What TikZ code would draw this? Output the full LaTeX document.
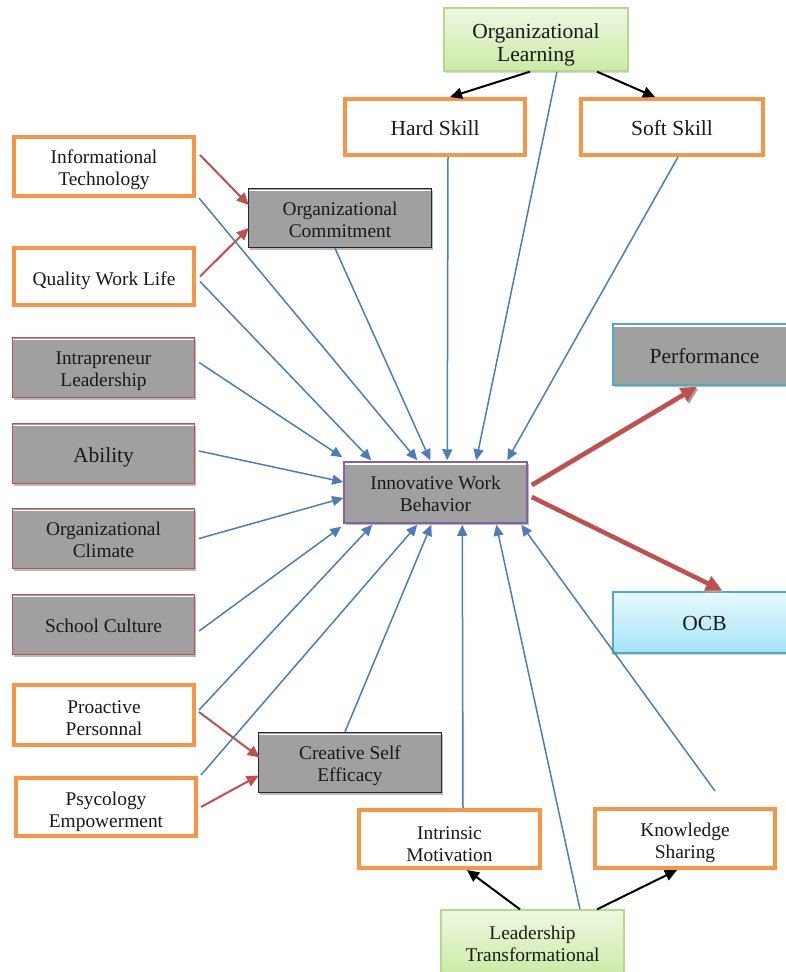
\documentclass[tikz,border=0pt]{standalone}
\usepackage{fontspec}
\setmainfont{Liberation Serif}
\usetikzlibrary{arrows.meta,shadows}
\definecolor{lblue}{HTML}{4A7EBB}
\definecolor{lred}{HTML}{C0504D}
\definecolor{lorange}{HTML}{F79646}
\definecolor{lgray}{HTML}{A0A0A0}
\definecolor{lpurple}{HTML}{8064A2}
\definecolor{lcyan}{HTML}{4BACC6}
\definecolor{lgreenb}{HTML}{B3D98A}
\definecolor{lgreentop}{HTML}{EEF8E2}
\definecolor{lgreenbot}{HTML}{CBEAA5}
\definecolor{lcyantop}{HTML}{E6F9FD}
\definecolor{lcyanbot}{HTML}{A6E4F7}
\newcommand\fsmall{\fontsize{19.4pt}{22pt}\selectfont}
\newcommand\flarge{\fontsize{21.5pt}{23pt}\selectfont}
\def\tsh{0pt}
\newcommand\dn[1]{\raisebox{-\tsh}[\height][\depth]{#1}}
\tikzset{
  base/.style={rectangle, align=center, inner sep=0pt, font=\fsmall, text=black!90},
  ts/.style={execute at begin node={\def\tsh{#1pt}}},
  sz/.style 2 args={minimum width=#1pt, minimum height=#2pt},
  hilite/.style={path picture={\draw[white, line width=1.6pt]
      ([yshift=-1.8pt]path picture bounding box.north west) --
      ([yshift=-1.8pt]path picture bounding box.north east);}},
  shad/.style={drop shadow={shadow xshift=1.5pt, shadow yshift=-2pt, fill=black!45, opacity=0.6}},
  obox/.style={base, draw=lorange, line width=4pt, fill=white},
  gbox/.style={base, draw=black!85, line width=1.5pt, fill=lgray, shad, hilite},
  rbox/.style={base, draw=lred, line width=1.2pt, fill=lgray, shad, hilite},
  pbox/.style={base, draw=lpurple, line width=1.5pt, fill=lgray, shad, hilite},
  cbox/.style={base, draw=lcyan, line width=1.3pt, fill=lgray, shad, hilite},
  greenbox/.style={base, draw=lgreenb, line width=1.3pt, top color=lgreentop, bottom color=lgreenbot,
      drop shadow={shadow xshift=1.2pt, shadow yshift=-1.5pt, fill=black!30, opacity=0.5}},
  ocbbox/.style={base, draw=lcyan, line width=1.3pt, top color=lcyantop, bottom color=lcyanbot,
      drop shadow={shadow xshift=1.2pt, shadow yshift=-1.5pt, fill=black!30, opacity=0.5}},
  barr/.style={draw=lblue, line width=1.5pt, -{Triangle[length=11pt,width=10pt]}},
  rarr/.style={draw=lred, line width=2pt, -{Triangle[length=12pt,width=11pt]}},
  karr/.style={draw=black, line width=2pt, -{Triangle[length=12pt,width=11pt]}},
  thickarr/.style={draw=lred, line width=4.5pt, -{Triangle[length=16pt,width=15pt]},
      preaction={draw=black!35, transform canvas={xshift=1.5pt,yshift=-2pt}}},
}
\begin{document}
\begin{tikzpicture}[x=1pt,y=-1pt]
\useasboundingbox (0,0) rectangle (786,972);
\clip (0,0) rectangle (786,972);
% nodes
\node[greenbox, sz={184}{63}, font=\flarge, ts=5] (OL) at (536,39.5) {\dn{Organizational}\\\dn{Learning}};
\node[obox, sz={180}{56}, font=\flarge, ts=1] (HS) at (435,127) {\dn{Hard Skill}};
\node[obox, sz={182}{56}, font=\flarge, ts=1] (SS) at (672,127) {\dn{Soft Skill}};
\node[obox, sz={180}{59}, ts=3] (IT) at (104,166.5) {\dn{Informational}\\\dn{Technology}};
\node[obox, sz={180}{57}, ts=4] (QWL) at (104,276.5) {\dn{Quality Work Life}};
\node[gbox, sz={183}{59}, ts=2] (OC) at (340,218) {\dn{Organizational}\\\dn{Commitment}};
\node[rbox, sz={182}{60}, ts=4] (IL) at (103.5,367.5) {\dn{Intrapreneur}\\\dn{Leadership}};
\node[rbox, sz={182}{60}, font=\flarge, ts=4] (AB) at (103.5,453.5) {\dn{Ability}};
\node[rbox, sz={182}{60}, ts=1] (CL) at (103.5,538.5) {\dn{Organizational}\\\dn{Climate}};
\node[rbox, sz={182}{60}, ts=1] (SC) at (103.5,624.5) {\dn{School Culture}};
\node[obox, sz={180}{60}, ts=3] (PP) at (104,715) {\dn{Proactive}\\\dn{Personnal}};
\node[obox, sz={180}{58}, ts=5] (PE) at (106,807) {\dn{Psycology}\\\dn{Empowerment}};
\node[gbox, sz={183}{60}, ts=3] (CSE) at (350,762.5) {\dn{Creative Self}\\\dn{Efficacy}};
\node[obox, sz={181}{58}, ts=5] (IM) at (449.5,839) {\dn{Intrinsic}\\\dn{Motivation}};
\node[obox, sz={180}{59}, ts=4] (KS) at (685,838.5) {\dn{Knowledge}\\\dn{Sharing}};
\node[greenbox, sz={183}{66}, ts=1] (LT) at (532.5,943) {\dn{Leadership}\\\dn{Transformational}};
\node[pbox, sz={183}{61}, ts=1] (IWB) at (435.5,492.5) {\dn{Innovative Work}\\\dn{Behavior}};
\node[cbox, sz={183}{61}, font=\flarge, ts=2] (PF) at (704.5,354.5) {\dn{Performance}};
\node[ocbbox, sz={183}{61}, font=\flarge, ts=1] (OCB) at (704.5,622.5) {\dn{OCB}};
% black arrows
\draw[karr] ([xshift=-6pt]OL.south) -- ([xshift=15pt]HS.north);
\draw[karr] ([xshift=61pt]OL.south) -- ([xshift=-17pt]SS.north);
\draw[karr] ([xshift=-12.5pt]LT.north) -- ([xshift=17.5pt]IM.south);
\draw[karr] ([xshift=64.5pt]LT.north) -- ([xshift=-8pt]KS.south);
% red arrows
\draw[rarr] ([xshift=4pt,yshift=11.5pt]IT.east) -- ([xshift=1pt,yshift=13pt]OC.west);
\draw[rarr] ([xshift=4pt]QWL.east) -- ([xshift=1pt,yshift=-10pt]OC.west);
\draw[rarr] ([xshift=3pt,yshift=3pt]PP.east) -- ([xshift=2pt,yshift=5pt]CSE.west);
\draw[rarr] ([xshift=3pt,yshift=0pt]PE.east) -- ([xshift=1pt,yshift=-13pt]CSE.west);
% blue arrows into IWB (top)
\draw[barr] ([xshift=4pt,yshift=5pt]IL.east) -- ([xshift=-1pt,yshift=4pt]IWB.north west);
\draw[barr] ([xshift=3pt]IT.south east) -- ([xshift=74pt,yshift=1pt]IWB.north west);
\draw[barr] ([xshift=4pt,yshift=-5pt]QWL.east) -- ([xshift=28pt,yshift=1pt]IWB.north west);
\draw[barr] ([xshift=-5pt]OC.south) -- ([xshift=87pt,yshift=1pt]IWB.north west);
\draw[barr] ([xshift=13pt]HS.south) -- ([xshift=104pt,yshift=1pt]IWB.north west);
\draw[barr] ([xshift=21pt]OL.south) -- ([xshift=133pt,yshift=1pt]IWB.north west);
\draw[barr] ([xshift=6pt]SS.south) -- ([xshift=164pt,yshift=1pt]IWB.north west);
% left side
\draw[barr] ([xshift=4pt,yshift=2.5pt]AB.east) -- ([xshift=0pt,yshift=10.5pt]IWB.west);
\draw[barr] ([xshift=4pt,yshift=0pt]CL.east) -- ([xshift=0pt,yshift=-5.5pt]IWB.west);
\draw[barr] ([xshift=4pt,yshift=-6.5pt]SC.east) -- ([xshift=-2pt,yshift=-3pt]IWB.south west);
% bottom
\draw[barr] ([xshift=3pt,yshift=5pt]PP.east) -- ([xshift=29pt,yshift=-1pt]IWB.south west);
\draw[barr] ([xshift=3pt,yshift=1pt]PE.north east) -- ([xshift=74pt,yshift=-1pt]IWB.south west);
\draw[barr] ([xshift=-5pt]CSE.north) -- ([xshift=88pt,yshift=-1pt]IWB.south west);
\draw[barr] ([xshift=13.5pt]IM.north) -- ([xshift=119pt,yshift=-1pt]IWB.south west);
\draw[barr] ([xshift=47.5pt]LT.north) -- ([xshift=153pt,yshift=-1pt]IWB.south west);
\draw[barr] ([xshift=30pt,yshift=16pt]KS.north) -- ([xshift=178pt,yshift=-1pt]IWB.south west);
% thick red outputs
\draw[thickarr] ([xshift=4pt,yshift=7.5pt]IWB.east) -- ([xshift=-7.5pt,yshift=-1pt]PF.south);
\draw[thickarr] ([xshift=4pt,yshift=-4.5pt]IWB.east) -- ([xshift=17.5pt,yshift=1pt]OCB.north);
\end{tikzpicture}
\end{document}
